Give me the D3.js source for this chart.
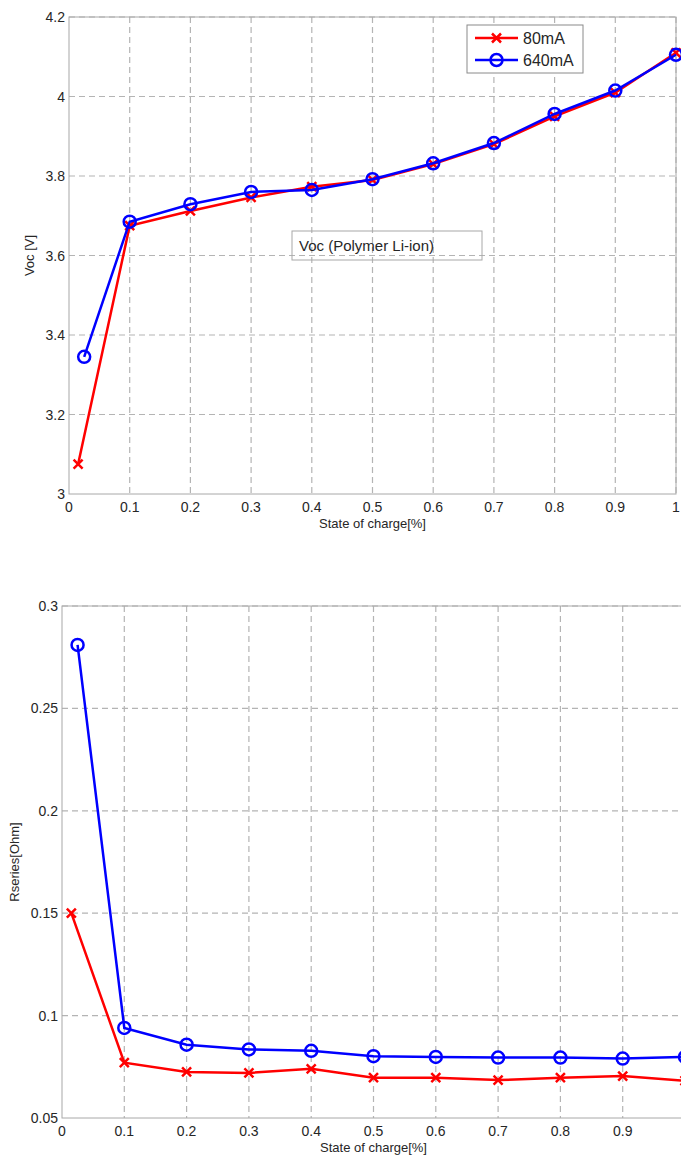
<!DOCTYPE html>
<html>
<head>
<meta charset="utf-8">
<script src="https://cdn.jsdelivr.net/npm/d3@7"></script>
<style>
  body { margin: 0; background: #fff; }
  svg { display: block; font-family: "Liberation Sans", Arial, sans-serif; }
</style>
</head>
<body>
<svg id="chart" width="681" height="1156"></svg>
<script>
// state of charge for each series (first sample is a bit off zero)
let socRed = [0.015, 0.1, 0.2, 0.3, 0.4, 0.5, 0.6, 0.7, 0.8, 0.9, 1.0]
let socBlue = [0.025, 0.1, 0.2, 0.3, 0.4, 0.5, 0.6, 0.7, 0.8, 0.9, 1.0]

// open circuit voltage [V]
let voc80 = [3.075, 3.675, 3.712, 3.746, 3.773, 3.790, 3.830, 3.880, 3.950, 4.010, 4.110]
let voc640 = [3.345, 3.685, 3.729, 3.760, 3.765, 3.792, 3.832, 3.883, 3.956, 4.015, 4.105]

// series resistance [Ohm]
let rs80 = [0.150, 0.077, 0.0725, 0.072, 0.074, 0.0697, 0.0697, 0.0685, 0.0697, 0.0705, 0.0682]
let rs640 = [0.281, 0.094, 0.0858, 0.0835, 0.0828, 0.0802, 0.0798, 0.0795, 0.0795, 0.0790, 0.0798]

let xTicks = [0, 0.1, 0.2, 0.3, 0.4, 0.5, 0.6, 0.7, 0.8, 0.9, 1]
let vocTicks = [3, 3.2, 3.4, 3.6, 3.8, 4, 4.2]
let rsTicks = [0.05, 0.1, 0.15, 0.2, 0.25, 0.3]

let legendLabels = ["80mA", "640mA"]

let colors = { red: "#ff0000", blue: "#0000ff", grid: "#b4b4b4", box: "#a8a8a8", text: "#262626" }

const svg = d3.select("#chart")

function drawPanel(p) {
    let x = d3.scaleLinear().domain([0, 1]).range([p.left, p.right])
    let y = d3.scaleLinear().domain(p.yDomain).range([p.bottom, p.top])

    let g = svg.append("g")

    // grid
    g.selectAll(".vgrid")
        .data(xTicks.slice(1))
        .enter()
        .append("line")
        .attr("x1", d => x(d)).attr("x2", d => x(d))
        .attr("y1", p.top).attr("y2", p.bottom)
        .attr("stroke", colors.grid)
        .attr("stroke-width", 1.2)
        .attr("stroke-dasharray", "6,4")

    g.selectAll(".hgrid")
        .data(p.yTicks.slice(1))
        .enter()
        .append("line")
        .attr("x1", p.left).attr("x2", p.right)
        .attr("y1", d => y(d)).attr("y2", d => y(d))
        .attr("stroke", colors.grid)
        .attr("stroke-width", 1.2)
        .attr("stroke-dasharray", "6,4")

    // axes box
    g.append("rect")
        .attr("x", p.left).attr("y", p.top)
        .attr("width", p.right - p.left).attr("height", p.bottom - p.top)
        .attr("fill", "none")
        .attr("stroke", colors.box)
        .attr("stroke-width", 1)

    // tick labels
    g.selectAll(".ylab")
        .data(p.yTicks)
        .enter()
        .append("text")
        .attr("x", p.left - 4)
        .attr("y", d => y(d) + 5)
        .attr("text-anchor", "end")
        .attr("font-size", 14)
        .attr("fill", colors.text)
        .text(d => String(d))

    g.selectAll(".xlab")
        .data(xTicks)
        .enter()
        .append("text")
        .attr("x", d => x(d))
        .attr("y", p.bottom + 18)
        .attr("text-anchor", "middle")
        .attr("font-size", 14)
        .attr("fill", colors.text)
        .text(d => String(d))

    g.append("text")
        .attr("x", (p.left + p.right) / 2)
        .attr("y", p.bottom + 34)
        .attr("text-anchor", "middle")
        .attr("font-size", 13)
        .attr("fill", colors.text)
        .text("State of charge[%]")

    g.append("text")
        .attr("transform", `translate(${p.yLabelX},${(p.top + p.bottom) / 2}) rotate(-90)`)
        .attr("text-anchor", "middle")
        .attr("font-size", 13)
        .attr("fill", colors.text)
        .text(p.yLabel)

    let line = d3.line().x(d => x(d[0])).y(d => y(d[1]))

    let redPts = socRed.map((s, i) => [s, p.red[i]])
    let bluePts = socBlue.map((s, i) => [s, p.blue[i]])

    g.append("path")
        .attr("d", line(redPts))
        .attr("fill", "none")
        .attr("stroke", colors.red)
        .attr("stroke-width", 2.5)

    g.selectAll(".xmark")
        .data(redPts)
        .enter()
        .append("path")
        .attr("d", d => {
            let cx = x(d[0]), cy = y(d[1]), s = 4.5
            return `M${cx - s},${cy - s}L${cx + s},${cy + s}M${cx - s},${cy + s}L${cx + s},${cy - s}`
        })
        .attr("stroke", colors.red)
        .attr("stroke-width", 2.5)

    g.append("path")
        .attr("d", line(bluePts))
        .attr("fill", "none")
        .attr("stroke", colors.blue)
        .attr("stroke-width", 2.5)

    g.selectAll(".omark")
        .data(bluePts)
        .enter()
        .append("circle")
        .attr("cx", d => x(d[0]))
        .attr("cy", d => y(d[1]))
        .attr("r", 6)
        .attr("fill", "none")
        .attr("stroke", colors.blue)
        .attr("stroke-width", 2.5)

    return { x, y, g }
}

let vocPanel = drawPanel({
    left: 69, right: 676, top: 17, bottom: 494,
    yDomain: [3, 4.2], yTicks: vocTicks,
    red: voc80, blue: voc640,
    yLabel: "Voc [V]", yLabelX: 34
})

let rsPanel = drawPanel({
    left: 62, right: 685, top: 606, bottom: 1118,
    yDomain: [0.05, 0.3], yTicks: rsTicks,
    red: rs80, blue: rs640,
    yLabel: "Rseries[Ohm]", yLabelX: 19
})

// annotation box in the top panel
vocPanel.g.append("rect")
    .attr("x", 292).attr("y", 231)
    .attr("width", 190).attr("height", 29)
    .attr("fill", "none")
    .attr("stroke", colors.box)
    .attr("stroke-width", 1)

vocPanel.g.append("text")
    .attr("x", 299).attr("y", 251)
    .attr("font-size", 15)
    .attr("fill", colors.text)
    .text("Voc (Polymer Li-ion)")

// legend
let leg = vocPanel.g.append("g")
leg.append("rect")
    .attr("x", 467).attr("y", 25)
    .attr("width", 116).attr("height", 48)
    .attr("fill", "#fff")
    .attr("stroke", "#8a8a8a")
    .attr("stroke-width", 1)

legendLabels.forEach((label, i) => {
    let ly = 38 + i * 22
    let col = i == 0 ? colors.red : colors.blue
    leg.append("line")
        .attr("x1", 475).attr("x2", 518)
        .attr("y1", ly).attr("y2", ly)
        .attr("stroke", col)
        .attr("stroke-width", 2.5)
    if (i == 0) {
        let s = 4.5, cx = 496.5
        leg.append("path")
            .attr("d", `M${cx - s},${ly - s}L${cx + s},${ly + s}M${cx - s},${ly + s}L${cx + s},${ly - s}`)
            .attr("stroke", col)
            .attr("stroke-width", 2.5)
    } else {
        leg.append("circle")
            .attr("cx", 496.5).attr("cy", ly)
            .attr("r", 6)
            .attr("fill", "none")
            .attr("stroke", col)
            .attr("stroke-width", 2.5)
    }
    leg.append("text")
        .attr("x", 523).attr("y", ly + 6)
        .attr("font-size", 16)
        .attr("fill", colors.text)
        .text(label)
})
</script>
</body>
</html>
